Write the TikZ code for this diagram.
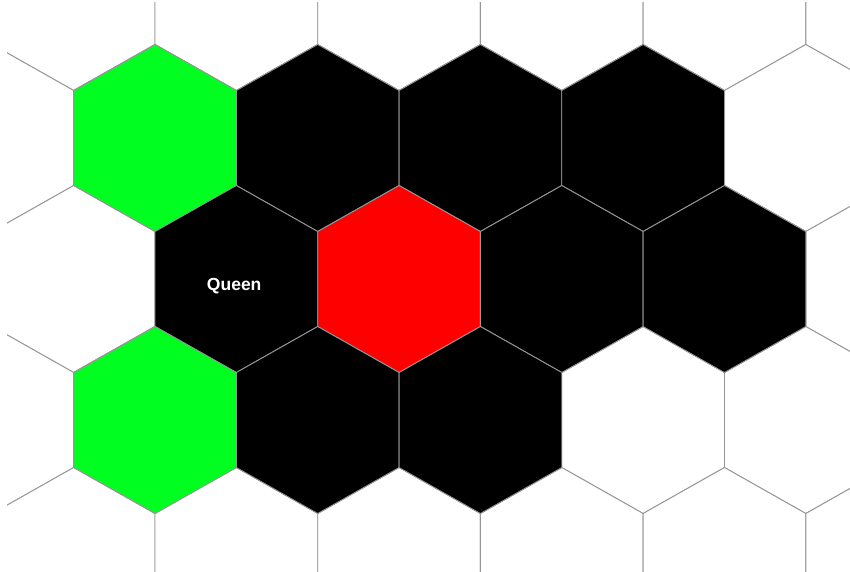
\documentclass[tikz,border=0pt]{standalone}
\usepackage{fontspec}
\setmainfont{Liberation Sans}
\definecolor{gridgray}{RGB}{150,150,150}
\definecolor{hexgreen}{RGB}{0,255,33}
\definecolor{hexred}{RGB}{255,0,0}
\newcommand\myhex[3]{\filldraw[cellstyle,#3] (#1,#2) +(0,-93.5) -- +(81.35,-47.5) -- +(81.35,47.5) -- +(0,93.5) -- +(-81.35,47.5) -- +(-81.35,-47.5) -- cycle;}
\tikzset{cellstyle/.style={draw=gridgray,line width=0.9pt,line join=miter},
  blank/.style={fill=white},
  dark/.style={fill=black},
  goal/.style={fill=hexgreen},
  target/.style={fill=hexred},
  label/.style={text=white,font=\bfseries\fontsize{17.5}{19}\selectfont,inner sep=0pt}}
\begin{document}
\begin{tikzpicture}[x=1pt,y=-1pt]
\useasboundingbox[fill=white] (0,0) rectangle (850,571);
\begin{scope}
\clip (7,2) rectangle (851,572);
% white grid
\foreach \r in {-1,...,4}{
  \pgfmathsetmacro{\cy}{138+141*\r}
  \pgfmathsetmacro{\off}{isodd(\r)?81.35:0}
  \foreach \k in {-2,...,6}{
    \pgfmathsetmacro{\cx}{155+\off+162.7*\k}
    \myhex{\cx}{\cy}{blank}
  }
}
\end{scope}
% row 0
\myhex{155}{138}{goal}
\myhex{317.7}{138}{dark}
\myhex{480.4}{138}{dark}
\myhex{643.1}{138}{dark}
% row 1
\myhex{236.35}{279}{dark}
\myhex{399.05}{279}{target}
\myhex{561.75}{279}{dark}
\myhex{724.45}{279}{dark}
% row 2
\myhex{155}{420}{goal}
\myhex{317.7}{420}{dark}
\myhex{480.4}{420}{dark}
\node[label,anchor=base] (queen) at (234.2,290) {Queen};
\end{tikzpicture}
\end{document}
